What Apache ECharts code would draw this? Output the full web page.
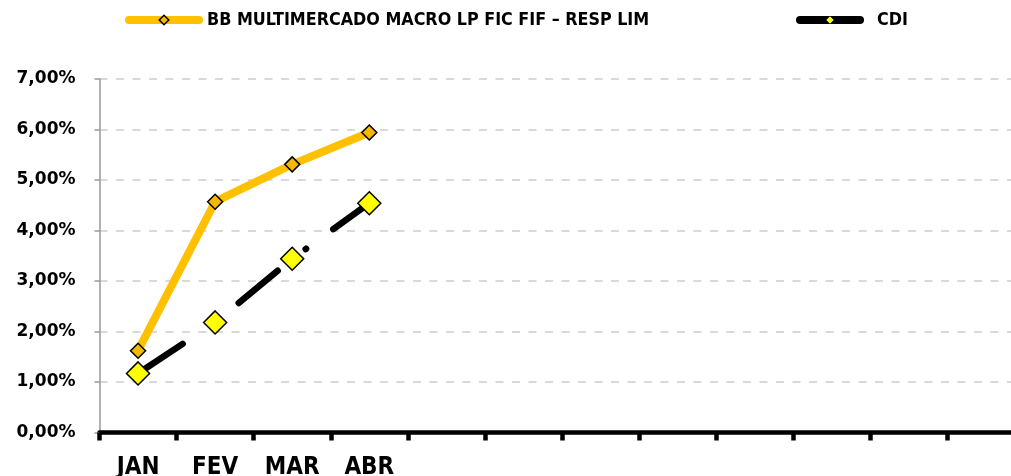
<!DOCTYPE html>
<html>
<head>
<meta charset="utf-8">
<script src="https://cdn.jsdelivr.net/npm/echarts@6/dist/echarts.min.js"></script>
<style>
    html, body { margin: 0; padding: 0; background: #fff; }
    #chart { width: 1011px; height: 476px; }
</style>
</head>
<body>
<div id="chart"></div>
<script>
const months = ["JAN", "FEV", "MAR", "ABR", "", "", "", "", "", "", "", ""];
const fundName = "BB MULTIMERCADO MACRO LP FIC FIF \u2013 RESP LIM";
const fundValues = [1.62, 4.57, 5.31, 5.94];
const cdiName = "CDI";
const cdiValues = [1.17, 2.18, 3.44, 4.54];
const yTicks = [0, 1, 2, 3, 4, 5, 6, 7];

const narrow = "'DejaVu Sans Condensed', sans-serif";
const wide = "'DejaVu Sans', sans-serif";

const chart = echarts.init(document.getElementById("chart"), null, { renderer: "canvas" });
chart.setOption({
    animation: false,
    backgroundColor: "#ffffff",
    grid: {
        left: 99.5, right: -13.5, top: 79, bottom: 43.5,
        containLabel: false, outerBoundsMode: "none"
    },
    legend: [
        {
            data: [fundName],
            left: 125,
            top: 11,
            padding: 0,
            itemWidth: 70,
            itemHeight: 12,
            lineStyle: { width: 8, type: "solid", cap: "round" },
            itemStyle: { borderWidth: 1.5, borderColor: "#000" },
            textStyle: {
                fontFamily: narrow, fontWeight: "bold", fontSize: 17.75,
                color: "#000", padding: [0, 0, 0, 3]
            }
        },
        {
            data: [cdiName],
            left: 796,
            top: 11,
            padding: 0,
            itemWidth: 60,
            itemHeight: 10,
            lineStyle: { width: 8, type: "solid", cap: "round" },
            itemStyle: { borderWidth: 1, borderColor: "#333" },
            textStyle: {
                fontFamily: narrow, fontWeight: "bold", fontSize: 17.75,
                color: "#000", padding: [0, 0, 0, 12]
            }
        }
    ],
    xAxis: {
        type: "category",
        data: months,
        axisLine: { lineStyle: { color: "#000", width: 4.5 } },
        axisTick: { show: true, interval: 0, length: 8, lineStyle: { color: "#000", width: 4.5 } },
        axisLabel: {
            interval: 0, margin: 23,
            fontFamily: narrow, fontWeight: "bold", fontSize: 24, color: "#000"
        },
        splitLine: { show: false }
    },
    yAxis: {
        type: "value",
        min: yTicks[0],
        max: yTicks[yTicks.length - 1],
        interval: 1,
        axisLine: { show: true, lineStyle: { color: "#999", width: 1.5 } },
        axisTick: { show: true, length: 5, lineStyle: { color: "#999", width: 1.5 } },
        axisLabel: {
            margin: 24,
            fontFamily: wide, fontWeight: "bold", fontSize: 17, color: "#000",
            formatter: v => v.toFixed(2).replace(".", ",") + "%"
        },
        splitLine: { lineStyle: { color: "#D9D9D9", width: 2, type: [8, 8.5] } }
    },
    series: [
        {
            name: fundName,
            type: "line",
            data: fundValues,
            symbol: "diamond",
            symbolSize: 15,
            lineStyle: { color: "#FFC000", width: 8, cap: "round", join: "round" },
            itemStyle: { color: "#F5B800", borderColor: "#000", borderWidth: 1.5 },
            z: 3
        },
        {
            name: cdiName,
            type: "line",
            data: cdiValues,
            symbol: "diamond",
            symbolSize: 23,
            lineStyle: {
                color: "#000", width: 6.5, cap: "round",
                type: [50.5, 35.5, 0.5, 33.5], dashOffset: -3
            },
            itemStyle: { color: "#FFFF00", borderColor: "#000", borderWidth: 1.5 },
            z: 2
        }
    ]
});
</script>
</body>
</html>
